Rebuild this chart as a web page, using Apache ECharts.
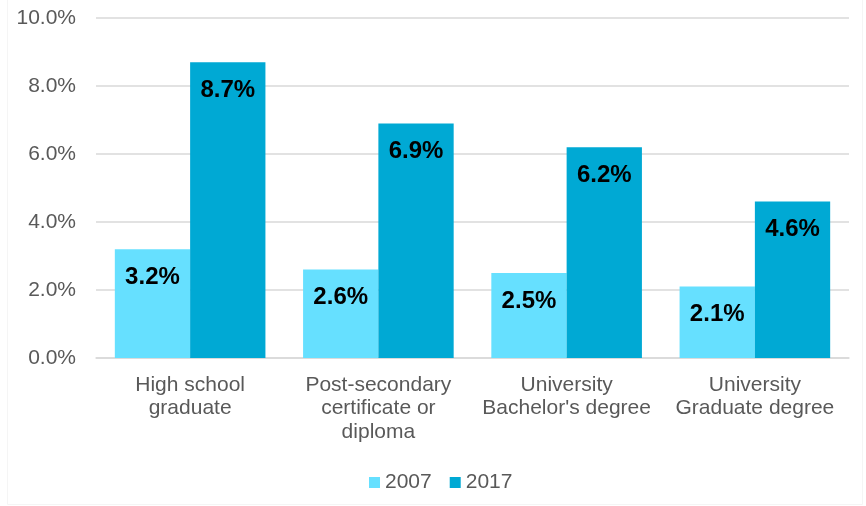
<!DOCTYPE html>
<html><head><meta charset="utf-8">
<script src="https://cdn.jsdelivr.net/npm/echarts@6/dist/echarts.min.js"></script>
<style>html,body{margin:0;padding:0;background:#fff}#c{width:866px;height:506px}</style>
</head><body><div id="c"></div>
<script>
const categories = ["High school\ngraduate", "Post-secondary\ncertificate or\ndiploma", "University\nBachelor's degree", "University\nGraduate degree"];
const values2007 = [3.2, 2.6, 2.5, 2.1];
const values2017 = [8.7, 6.9, 6.2, 4.6];
const seriesNames = ["2007", "2017"];
const yTicks = {min: 0, max: 10, interval: 2};

const chart = echarts.init(document.getElementById('c'), null, {renderer: 'canvas'});
const font = 'Liberation Sans, Arial, sans-serif';
const lbl = {show: true, position: 'insideTop', distance: 16, formatter: p => p.value.toFixed(1) + '%', fontSize: 24, fontWeight: 'bold', color: '#000', fontFamily: font};
chart.setOption({
  animation: false,
  textStyle: {fontFamily: font},
  graphic: [{type: 'rect', shape: {x: 7.5, y: -2, width: 855, height: 506.5}, style: {fill: 'none', stroke: '#f5f5f5', lineWidth: 1}, silent: true}],
  grid: {left: 96, right: 17, top: 18, bottom: 148, containLabel: false},
  legend: {bottom: 13, left: 369, padding: 0, itemWidth: 11, itemHeight: 11, itemGap: 18, icon: 'rect',
    textStyle: {fontSize: 21, color: '#595959', fontFamily: font}, data: seriesNames},
  xAxis: {type: 'category', data: categories,
    axisLine: {lineStyle: {color: '#d9d9d9', width: 1.5}}, axisTick: {show: false},
    axisLabel: {fontSize: 21, color: '#595959', lineHeight: 23.5, margin: 15, interval: 0, fontFamily: font}},
  yAxis: {type: 'value', min: yTicks.min, max: yTicks.max, interval: yTicks.interval,
    axisLine: {show: false}, axisTick: {show: false},
    splitLine: {lineStyle: {color: '#d9d9d9', width: 1.5}},
    axisLabel: {fontSize: 21, color: '#595959', margin: 20, formatter: v => v.toFixed(1) + '%', fontFamily: font}},
  series: [
    {name: seriesNames[0], type: 'bar', data: values2007, itemStyle: {color: '#66e0ff'}, barGap: '0%', barCategoryGap: '20%', label: lbl},
    {name: seriesNames[1], type: 'bar', data: values2017, itemStyle: {color: '#00a9d4'}, barGap: '0%', barCategoryGap: '20%', label: lbl}
  ]
});
</script></body></html>
